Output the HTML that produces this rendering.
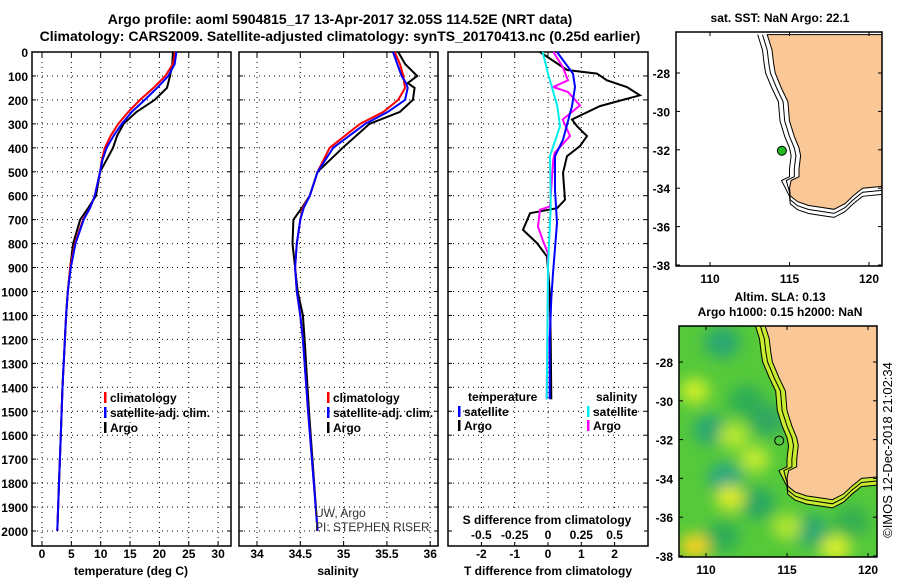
<!DOCTYPE html>
<html><head><meta charset="utf-8"><style>
body{margin:0;background:#fff}
svg{display:block;font-family:"Liberation Sans",sans-serif;font-weight:bold;font-size:12px}
</style></head><body>
<svg id="s" width="900" height="580" viewBox="0 0 900 580">
<defs>
<clipPath id="cm1"><rect x="676" y="32" width="206" height="234"/></clipPath>
<clipPath id="cm2"><rect x="679" y="326" width="198" height="231"/></clipPath>
<filter id="blur"><feGaussianBlur stdDeviation="7"/></filter>
</defs>
<text x="340" y="24" text-anchor="middle" font-size="14">Argo profile: aoml 5904815_17 13-Apr-2017 32.05S 114.52E (NRT data)</text>
<text x="340" y="41" text-anchor="middle" font-size="14">Climatology: CARS2009. Satellite-adjusted climatology: synTS_20170413.nc (0.25d earlier)</text>
<text x="780" y="22" text-anchor="middle">sat. SST: NaN Argo: 22.1</text>
<text x="780" y="301" text-anchor="middle">Altim. SLA: 0.13</text>
<text x="780" y="316" text-anchor="middle">Argo h1000: 0.15 h2000: NaN</text>
<text transform="translate(892,450) rotate(-90)" text-anchor="middle" font-weight="normal" font-size="13">©IMOS 12-Dec-2018 21:02:34</text>
<g id="g"></g>
</svg>
<script>
// ---- data ----
const depthT=[0,50,100,150,200,250,300,350,400,450,500,600,650,700,800,900,1000,1100,1200,1300,1400,1600,1800,2000];
const tempClim=[22.7,22.3,21.0,19.0,16.7,14.7,13.0,11.7,10.7,10.2,9.9,9.0,8.2,7.0,5.6,4.8,4.4,4.1,3.9,3.7,3.5,3.2,2.9,2.6];
const tempSat=[22.9,22.6,21.5,19.6,17.5,15.3,13.6,12.2,11.0,10.3,9.9,9.0,8.2,7.1,5.7,4.9,4.4,4.1,3.9,3.7,3.5,3.2,2.9,2.6];
const tempArgo=[22.3,22.2,21.8,21.3,19.2,16.1,13.9,12.8,12.1,11.0,9.9,9.2,7.9,6.5,5.3,4.8,4.4,4.1,3.9,3.7,3.5,3.2,2.9,2.6];
const depthS=[0,50,100,130,150,200,250,300,400,500,600,650,700,800,900,1000,1100,1200,1500,2000];
const salClim=[35.59,35.65,35.69,35.70,35.71,35.63,35.46,35.19,34.84,34.70,34.61,34.53,34.50,34.46,34.44,34.46,34.50,34.53,34.59,34.70];
const salSat=[35.57,35.62,35.67,35.72,35.74,35.71,35.51,35.25,34.88,34.70,34.61,34.54,34.50,34.46,34.44,34.46,34.50,34.53,34.59,34.70];
const salArgo=[35.63,35.71,35.85,35.74,35.82,35.80,35.65,35.30,34.99,34.70,34.61,34.52,34.42,34.41,34.44,34.47,34.53,34.55,34.60,34.70];
const dDepthArgoT=[0,75,90,118,146,181,200,226,282,310,351,393,435,505,617,652,673,743,798,854,1000,1200,1450];
const argoTdiff=[-0.24,0.57,1.47,1.77,2.37,2.76,2.25,1.56,0.72,0.87,1.17,0.96,0.57,0.45,0.51,0.27,-0.54,-0.75,-0.33,-0.03,0.05,0.08,0.1];
const dDepthSatT=[0,90,146,226,366,435,575,715,924,1030,1200,1450];
const satTdiff=[0.27,0.75,0.81,0.72,0.45,0.21,0.21,0.27,0.15,0.1,0.05,0.05];
const dDepthArgoS=[0,62,118,146,167,223,282,351,421,449,645,659,729,785,841,1000,1450];
const argoSdiff=[0.04,0.11,0.15,0.04,0.15,0.24,0.11,0.165,0.05,0.04,0.015,-0.06,-0.075,-0.04,0,0,-0.01];
const dDepthSatS=[0,90,226,310,435,645,900,1450];
const satSdiff=[-0.04,0,0.07,0.09,0.015,0.02,0,-0.01];
const depthTicks=[0,100,200,300,400,500,600,700,800,900,1000,1100,1200,1300,1400,1500,1600,1700,1800,1900,2000];
const tempTicks=[0,5,10,15,20,25,30];
const salTicks=[34,34.5,35,35.5,36];
const salTickLabels=["34","34.5","35","35.5","36"];
const tdTicks=[-2,-1,0,1,2];
const sdTicks=[-0.5,-0.25,0,0.25,0.5];
const sdTickLabels=["-0.5","-0.25","0","0.25","0.5"];
const latTicks=[-28,-30,-32,-34,-36,-38];
const lonTicks=[110,115,120];
const argoLon=114.52, argoLat=-32.05;
const coast=[[113.6,-26.0],[113.9,-26.8],[114.0,-27.5],[114.1,-28],[114.5,-28.8],[114.9,-29.5],[115.0,-30.5],[115.3,-31.3],[115.6,-31.9],[115.7,-32.3],[115.6,-33],[115.6,-33.4],[115.1,-33.6],[115.0,-34.0],[115.05,-34.4],[115.5,-34.7],[116.2,-34.9],[117,-35.0],[117.8,-35.1],[118.5,-34.8],[119.0,-34.4],[119.6,-34.0],[120.9,-33.9]];

// ---- helpers ----
const NS="http://www.w3.org/2000/svg";
const G=document.getElementById('g');
function mk(t,a,p){const e=document.createElementNS(NS,t);for(const k in a)e.setAttribute(k,a[k]);(p||G).appendChild(e);return e;}
const yD=d=>52+d*0.2395;
const BOT=546;
const xT=v=>42+v*5.87;
const xS=v=>257+(v-34)*86.6;
const xTd=v=>548+v*33.3;
const xSd=v=>548+v*133.2;
function box(x0,x1,name){const r=mk('rect',{x:x0,y:52,width:x1-x0,height:BOT-52,fill:'none',stroke:'#000','stroke-width':1.5});

}
function hgrid(x0,x1){depthTicks.forEach(d=>{if(d>0){mk('line',{x1:x0,x2:x1,y1:yD(d),y2:yD(d),stroke:'#000','stroke-dasharray':'1,4'});
mk('line',{x1:x0,x2:x0+4,y1:yD(d),y2:yD(d),stroke:'#000'});mk('line',{x1:x1-4,x2:x1,y1:yD(d),y2:yD(d),stroke:'#000'});}});}
function vgrid(xs,x0,x1){xs.forEach(x=>{mk('line',{x1:x,x2:x,y1:52,y2:BOT,stroke:'#000','stroke-dasharray':'1,4'});mk('line',{x1:x,x2:x,y1:BOT,y2:BOT-5,stroke:'#000'});mk('line',{x1:x,x2:x,y1:52,y2:57,stroke:'#000'});});}
function line(ds,vs,fx,col,name){const p=ds.map((d,i)=>fx(vs[i]).toFixed(1)+','+yD(d).toFixed(1)).join(' ');
const e=mk('polyline',{points:p,fill:'none',stroke:col,'stroke-width':2});

}
function txt(x,y,s,anchor,name,extra){const e=mk('text',Object.assign({x:x,y:y,'text-anchor':anchor||'middle'},extra||{}));e.textContent=s;

return e;}
function leg(x,y,col,s,name){mk('rect',{x:x,y:y-10,width:2.5,height:11,fill:col});txt(x+6,y,s,'start',name);}

// depth labels
depthTicks.forEach(d=>txt(28,yD(d)+5,String(d),'end','depth-tick-label'));

// panel 1 temperature
vgrid(tempTicks.map(xT));hgrid(32,231);box(32,231,'temperature-panel');
line(depthT,tempArgo,xT,'#000','temp-argo-line');
line(depthT,tempClim,xT,'#f00','temp-climatology-line');
line(depthT,tempSat,xT,'#00f','temp-satellite-line');
tempTicks.forEach(v=>txt(xT(v),558,String(v),'middle','temp-tick-label'));
txt(131,575,'temperature (deg C)','middle','temp-axis-title');
leg(104,402,'#f00','climatology','legend-climatology');leg(104,417,'#00f','satellite-adj. clim.','legend-satellite');leg(104,432,'#000','Argo','legend-argo');

// panel 2 salinity
vgrid(salTicks.map(xS));hgrid(239,438);box(239,438,'salinity-panel');
line(depthS,salArgo,xS,'#000','sal-argo-line');
line(depthS,salClim,xS,'#f00','sal-climatology-line');
line(depthS,salSat,xS,'#00f','sal-satellite-line');
salTicks.forEach((v,i)=>txt(xS(v),558,salTickLabels[i],'middle','sal-tick-label'));
txt(338,575,'salinity','middle','sal-axis-title');
leg(327,402,'#f00','climatology','legend-climatology-2');leg(327,417,'#00f','satellite-adj. clim.','legend-satellite-2');leg(327,432,'#000','Argo','legend-argo-2');
txt(315,517,'UW, Argo','start','credit-uw',{'font-weight':'normal',fill:'#333'});
txt(315,531,'PI: STEPHEN RISER','start','credit-pi',{'font-weight':'normal',fill:'#333'});

// panel 3 differences
vgrid(tdTicks.map(xTd));hgrid(448,648);box(448,648,'difference-panel');
line(dDepthArgoT,argoTdiff,xTd,'#000','tdiff-argo-line');
line(dDepthArgoS,argoSdiff,xSd,'#f0f','sdiff-argo-line');
line(dDepthSatT,satTdiff,xTd,'#00f','tdiff-satellite-line');
line(dDepthSatS,satSdiff,xSd,'#0ee','sdiff-satellite-line');
txt(468,401,'temperature','start','legend-temperature-head');
txt(596,401,'salinity','start','legend-salinity-head');
leg(458,416,'#00f','satellite','legend-t-satellite');leg(458,430,'#000','Argo','legend-t-argo');
leg(587,416,'#0ee','satellite','legend-s-satellite');leg(587,430,'#f0f','Argo','legend-s-argo');
mk('rect',{x:452,y:508,width:192,height:34,fill:'#fff'});
txt(547,524,'S difference from climatology','middle','sdiff-axis-title');
sdTicks.forEach((v,i)=>txt(xSd(v),539,sdTickLabels[i],'middle','sdiff-tick-label'));
tdTicks.forEach(v=>txt(xTd(v),558,String(v),'middle','tdiff-tick-label'));
txt(548,575,'T difference from climatology','middle','tdiff-axis-title');

// ---- maps ----
function map(bx,by,bw,bh,lx,ly,clip,name,green){
 const X=lon=>lx[0]+(lon-110)*lx[1], Y=lat=>ly[0]+(lat+28)*(-ly[1]);
 const g=mk('g',{'clip-path':'url(#'+clip+')'});
 
 
 mk('rect',{x:bx,y:by,width:bw,height:bh,fill:green?'#55c93a':'#fff'},g);
 if(green){const b=mk('g',{filter:'url(#blur)'},g);
  [[111,-27,'#2aa870'],[112.5,-30,'#2fae55'],[110.3,-31.5,'#2aa870'],[111.2,-34,'#2aa880'],[113.2,-35.3,'#2aa860'],[116.5,-36.7,'#2aa870'],[113.8,-31,'#30a860'],[111,-37,'#2fae55'],[119,-36.2,'#34b050']].forEach(c=>mk('ellipse',{cx:X(c[0]),cy:Y(c[1]),rx:18,ry:16,fill:c[2]},b));
  [[109.3,-29.5,'#c8ec2a'],[111.7,-31.8,'#b8e830'],[111.5,-35,'#d8ea2a'],[109.3,-37.5,'#f0d020'],[118,-37.6,'#d8ee2a'],[113,-33,'#c0ea30'],[115,-36.5,'#b0e430']].forEach(c=>mk('ellipse',{cx:X(c[0]),cy:Y(c[1]),rx:15,ry:13,fill:c[2]},b));
 }
 const off=(k)=>coast.map(p=>p[1]>-33.7?[p[0]-k,p[1]]:[p[0],p[1]-k*0.7]);
 const pts=a=>a.map(p=>X(p[0]).toFixed(1)+','+Y(p[1]).toFixed(1)).join(' ');
 if(green) mk('polygon',{points:pts(off(0.6).concat([[121,-35],[121,-26],[113,-26]])),fill:'#c8ec30'},g);
 else mk('polyline',{points:pts(off(0.6)),fill:'none',stroke:'#000','stroke-width':1},g);
 mk('polyline',{points:pts(off(0.3)),fill:'none',stroke:'#000','stroke-width':1},g);
 if(green) mk('polyline',{points:pts(off(0.6)),fill:'none',stroke:'#000','stroke-width':1},g);
 mk('polygon',{points:pts(coast.concat([[121,-33.9],[121,-26],[113.6,-26]])),fill:'#fac896',stroke:'#000','stroke-width':1},g);
 const dot=mk('circle',{cx:X(argoLon),cy:Y(argoLat),r:4.5,fill:green?'none':'#22bb22',stroke:'#000','stroke-width':1});
 
 
 mk('rect',{x:bx,y:by,width:bw,height:bh,fill:'none',stroke:'#000','stroke-width':1.5});
 latTicks.forEach(l=>{mk('line',{x1:bx,x2:bx+4,y1:Y(l),y2:Y(l),stroke:'#000'});mk('line',{x1:bx+bw,x2:bx+bw-4,y1:Y(l),y2:Y(l),stroke:'#000'});
   txt(bx-6,Y(l)+5,String(l),'end',name+'-lat-label');});
 lonTicks.forEach(l=>{mk('line',{x1:X(l),x2:X(l),y1:by+bh,y2:by+bh-4,stroke:'#000'});mk('line',{x1:X(l),x2:X(l),y1:by,y2:by+4,stroke:'#000'});
   txt(X(l),by+bh+17,String(l),'middle',name+'-lon-label');});
}
map(676,32,206,234,[710,15.9],[73,19.2],'cm1','sst-map',false);
map(679,326,198,231,[706,16.2],[362,19.4],'cm2','sla-map',true);
</script>
</body></html>
